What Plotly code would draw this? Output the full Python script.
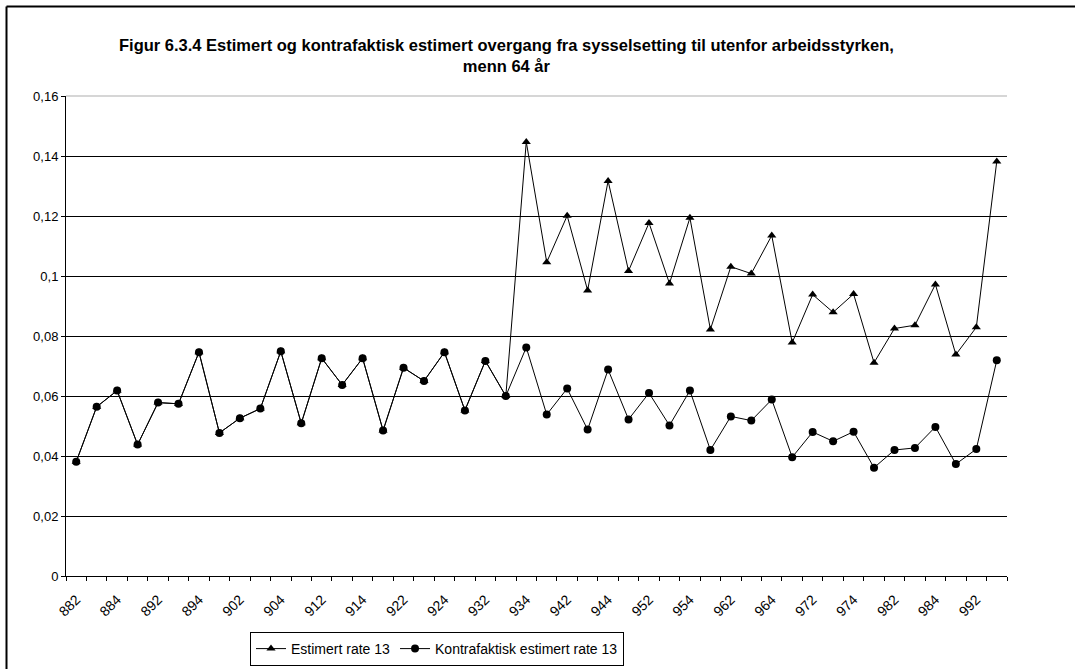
import plotly.graph_objects as go

# ---- data ----
categories = ["882", "883", "884",
              "891", "892", "893", "894",
              "901", "902", "903", "904",
              "911", "912", "913", "914",
              "921", "922", "923", "924",
              "931", "932", "933", "934",
              "941", "942", "943", "944",
              "951", "952", "953", "954",
              "961", "962", "963", "964",
              "971", "972", "973", "974",
              "981", "982", "983", "984",
              "991", "992", "993"]

estimert = [0.0381, 0.0564, 0.0618,
            0.0438, 0.0578, 0.0574, 0.0746,
            0.0477, 0.0526, 0.0558, 0.0749,
            0.0509, 0.0726, 0.0637, 0.0726,
            0.0485, 0.0694, 0.0650, 0.0746,
            0.0552, 0.0717, 0.0600, 0.1447,
            0.1046, 0.1201, 0.0952, 0.1317,
            0.1017, 0.1177, 0.0975, 0.1194,
            0.0822, 0.1031, 0.1008, 0.1135,
            0.0778, 0.0938, 0.0879, 0.0940,
            0.0711, 0.0825, 0.0836, 0.0972,
            0.0738, 0.0829, 0.1382]

kontrafaktisk = [0.0381, 0.0564, 0.0618,
                 0.0438, 0.0578, 0.0574, 0.0746,
                 0.0477, 0.0526, 0.0558, 0.0749,
                 0.0509, 0.0726, 0.0637, 0.0726,
                 0.0485, 0.0694, 0.0650, 0.0746,
                 0.0552, 0.0717, 0.0600, 0.0762,
                 0.0538, 0.0625, 0.0488, 0.0688,
                 0.0522, 0.0610, 0.0502, 0.0618,
                 0.0420, 0.0532, 0.0518, 0.0588,
                 0.0396, 0.0480, 0.0449, 0.0481,
                 0.0361, 0.0420, 0.0427, 0.0497,
                 0.0373, 0.0423, 0.0719]

series_names = ["Estimert rate 13", "Kontrafaktisk estimert rate 13"]

x_labels = [c if i % 2 == 0 else "" for i, c in enumerate(categories)]

y_tickvals = [0, 0.02, 0.04, 0.06, 0.08, 0.10, 0.12, 0.14, 0.16]
y_ticktext = ["0", "0,02", "0,04", "0,06", "0,08", "0,1", "0,12", "0,14", "0,16"]

title_text = ("<b>Figur 6.3.4 Estimert og kontrafaktisk estimert overgang fra sysselsetting til utenfor arbeidsstyrken,"
              "<br>menn 64 år</b>")

# ---- layout geometry (pixels) ----
W, H = 1075, 669
L, R, T, B = 66, 68, 96, 93
pw, ph = W - L - R, H - T - B


def px_x(px):
    return (px - L) / pw


def px_y(py):
    return (H - B - py) / ph


FONT = "Liberation Sans, Arial, sans-serif"

fig = go.Figure()
fig.add_trace(go.Scatter(
    x=categories, y=estimert, name=series_names[0], mode="lines+markers",
    line=dict(color="black", width=1),
    marker=dict(symbol="triangle-up", size=8, color="black"),
))
fig.add_trace(go.Scatter(
    x=categories, y=kontrafaktisk, name=series_names[1], mode="lines+markers",
    line=dict(color="black", width=1),
    marker=dict(symbol="circle", size=8, color="black"),
))

fig.update_layout(
    width=W, height=H,
    margin=dict(l=L, r=R, t=T, b=B, autoexpand=False),
    paper_bgcolor="white", plot_bgcolor="white",
    font=dict(family=FONT, size=13, color="black"),
    showlegend=True,
    legend=dict(
        orientation="h", x=px_x(250), y=px_y(632), xanchor="left", yanchor="top",
        bordercolor="black", borderwidth=1, bgcolor="white",
        font=dict(family=FONT, size=14, color="black"),
        itemwidth=30, tracegroupgap=0,
    ),
    xaxis=dict(
        type="category", categoryorder="array", categoryarray=categories,
        range=[-0.5, len(categories) - 0.5], autorange=False,
        tickmode="array", tickvals=categories, ticktext=x_labels,
        tickson="boundaries", ticks="outside", ticklen=4, tickcolor="black",
        tickangle=-45, ticklabelstandoff=9,
        showgrid=False, showline=True, linecolor="black",
        linewidth=1, zeroline=False, automargin=False,
        tickfont=dict(family=FONT, size=14, color="black"),
    ),
    yaxis=dict(
        range=[0, 0.16], autorange=False,
        tickmode="array", tickvals=y_tickvals, ticktext=y_ticktext,
        ticks="outside", ticklen=4, tickcolor="black",
        showgrid=True, gridcolor="black", gridwidth=1,
        showline=True, linecolor="black", linewidth=1, zeroline=False,
        automargin=False,
        tickfont=dict(family=FONT, size=13, color="black"),
    ),
    annotations=[dict(
        text=title_text, xref="paper", yref="paper",
        x=px_x(506), y=px_y(34), xanchor="center", yanchor="top",
        showarrow=False, align="center",
        font=dict(family=FONT, size=16.5, color="black"),
    )],
    shapes=[
        # light top border at 0.16
        dict(type="line", xref="paper", yref="paper", x0=0, x1=1, y0=1, y1=1,
             line=dict(color="#c8c8c8", width=1.5), layer="above"),
        # outer chart frame (left and top edges visible)
        dict(type="line", xref="paper", yref="paper",
             x0=px_x(6.5), x1=px_x(6.5), y0=px_y(6.5), y1=px_y(H + 5),
             line=dict(color="black", width=2)),
        dict(type="line", xref="paper", yref="paper",
             x0=px_x(6.5), x1=px_x(W + 5), y0=px_y(6.5), y1=px_y(6.5),
             line=dict(color="black", width=2)),
    ],
)

fig.write_html("out.html", config={"displayModeBar": False},
               post_script="document.body.style.margin='0px';")
